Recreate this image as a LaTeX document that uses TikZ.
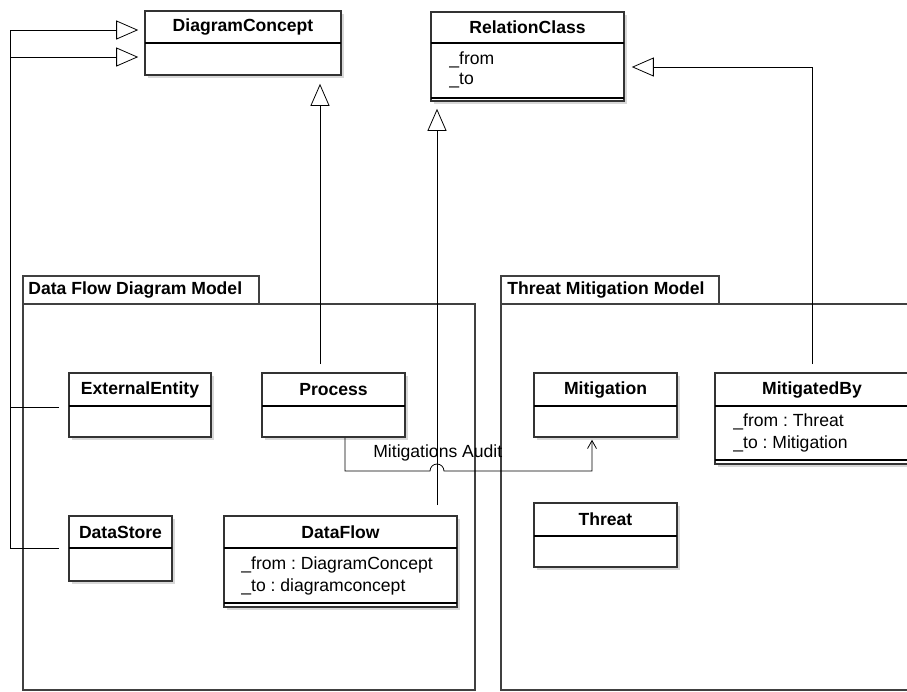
\documentclass[tikz,border=0pt]{standalone}
\usepackage{fontspec}
\setmainfont{Liberation Sans}
\usetikzlibrary{arrows.meta,fit,shadows}
\frenchspacing

\tikzset{
  box/.style={draw=black!80, line width=0.9pt, fill=white, inner sep=0pt,
    drop shadow={shadow xshift=0.05cm, shadow yshift=-0.05cm, fill=black!30}},
  pkg/.style={draw=black!75, line width=0.9pt, fill=white},
  ttl/.style={font=\bfseries\fontsize{10}{12}\selectfont, inner sep=0pt},
  attr/.style={font=\fontsize{10}{12}\selectfont, anchor=west, inner sep=0pt},
  gen/.style={line width=0.45pt, -{Triangle[open, fill=white, length=0.44cm, width=0.38cm]}},
  assoc/.style={line width=0.45pt, -{Straight Barb[length=0.16cm, width=0.18cm]}}
}

% class box: name, x1, y1, x2, y2, header line, title
\newcommand\umlclass[7]{%
  \node[box, fit={(#2,#3) (#4,#5)}] (#1) {};
  \draw[line width=0.7pt] (#2,#6) -- (#4,#6);
  \node[ttl] (#1-name) at ({(#2+#4)/2},{(#3+#6)/2}) {#7};
}

\begin{document}
\begin{tikzpicture}[x=0.02cm, y=-0.02cm]
  \useasboundingbox (0,0) rectangle (907,691);
  \clip (0,0) rectangle (907,691);

  % packages
  \draw[pkg] (23,304) rectangle (475,690);
  \draw[pkg] (23,276) rectangle (259,304);
  \node[ttl, anchor=west] (dfdm) at (28,290) {Data Flow Diagram Model};
  \draw[pkg] (501,304) rectangle (915,690);
  \draw[pkg] (501,276) rectangle (719,304);
  \node[ttl, anchor=west] (tmm) at (507,290) {Threat Mitigation Model};

  % classes
  \umlclass{dc}{145}{11}{341}{75}{43}{DiagramConcept}
  \umlclass{rc}{431}{12}{624}{101}{43}{RelationClass}
  \draw[line width=0.7pt] (431,98) -- (624,98);
  \node[attr] (rc-from) at (449,60) {\_from};
  \node[attr] (rc-to) at (449,81) {\_to};

  \umlclass{ee}{69}{373}{211}{437}{406}{ExternalEntity}
  \umlclass{proc}{262}{373}{405}{437}{406}{Process}
  \umlclass{ds}{69}{516}{172}{581}{548}{DataStore}
  \umlclass{df}{224}{516}{457}{607}{548}{DataFlow}
  \draw[line width=0.7pt] (224,603) -- (457,603);
  \node[attr] (df-from) at (241,565) {\_from : DiagramConcept};
  \node[attr] (df-to) at (241,587) {\_to : diagramconcept};

  \umlclass{mit}{534}{373}{677}{437}{406}{Mitigation}
  \umlclass{mb}{715}{373}{909}{464}{406}{MitigatedBy}
  \draw[line width=0.7pt] (715,460) -- (909,460);
  \node[attr] (mb-from) at (733,422) {\_from : Threat};
  \node[attr] (mb-to) at (733,444) {\_to : Mitigation};
  \umlclass{thr}{534}{503}{677}{567}{536}{Threat}

  % generalizations
  \draw[gen, shorten <=0.18cm, shorten >=0.12cm] (ee.west |- 0,407) -| (10,57) -- (dc.west |- 0,57);
  \draw[gen, shorten <=0.18cm, shorten >=0.12cm] (ds.west |- 0,548) -| (10,30) -- (dc.west |- 0,30);
  \draw[gen, shorten <=0.16cm, shorten >=0.16cm] (proc.north -| 320,0) -- (dc.south -| 320,0);
  \draw[gen, shorten <=0.2cm, shorten >=0.14cm] (df.north -| 437,0) -- (rc.south -| 437,0);
  \draw[gen, shorten <=0.16cm, shorten >=0.14cm] (mb.north -| 812,0) |- (rc.east |- 0,67);

  % association
  \draw[assoc, shorten >=0.04cm] (proc.south -| 345,0) -- (345,471) -- (430,471)
    arc[start angle=180, end angle=0, radius=0.14cm] -- (592,471) -- (mit.south -| 592,0);
  \node[attr] (audit) at (373,453) {Mitigations Audit};
\end{tikzpicture}
\end{document}
